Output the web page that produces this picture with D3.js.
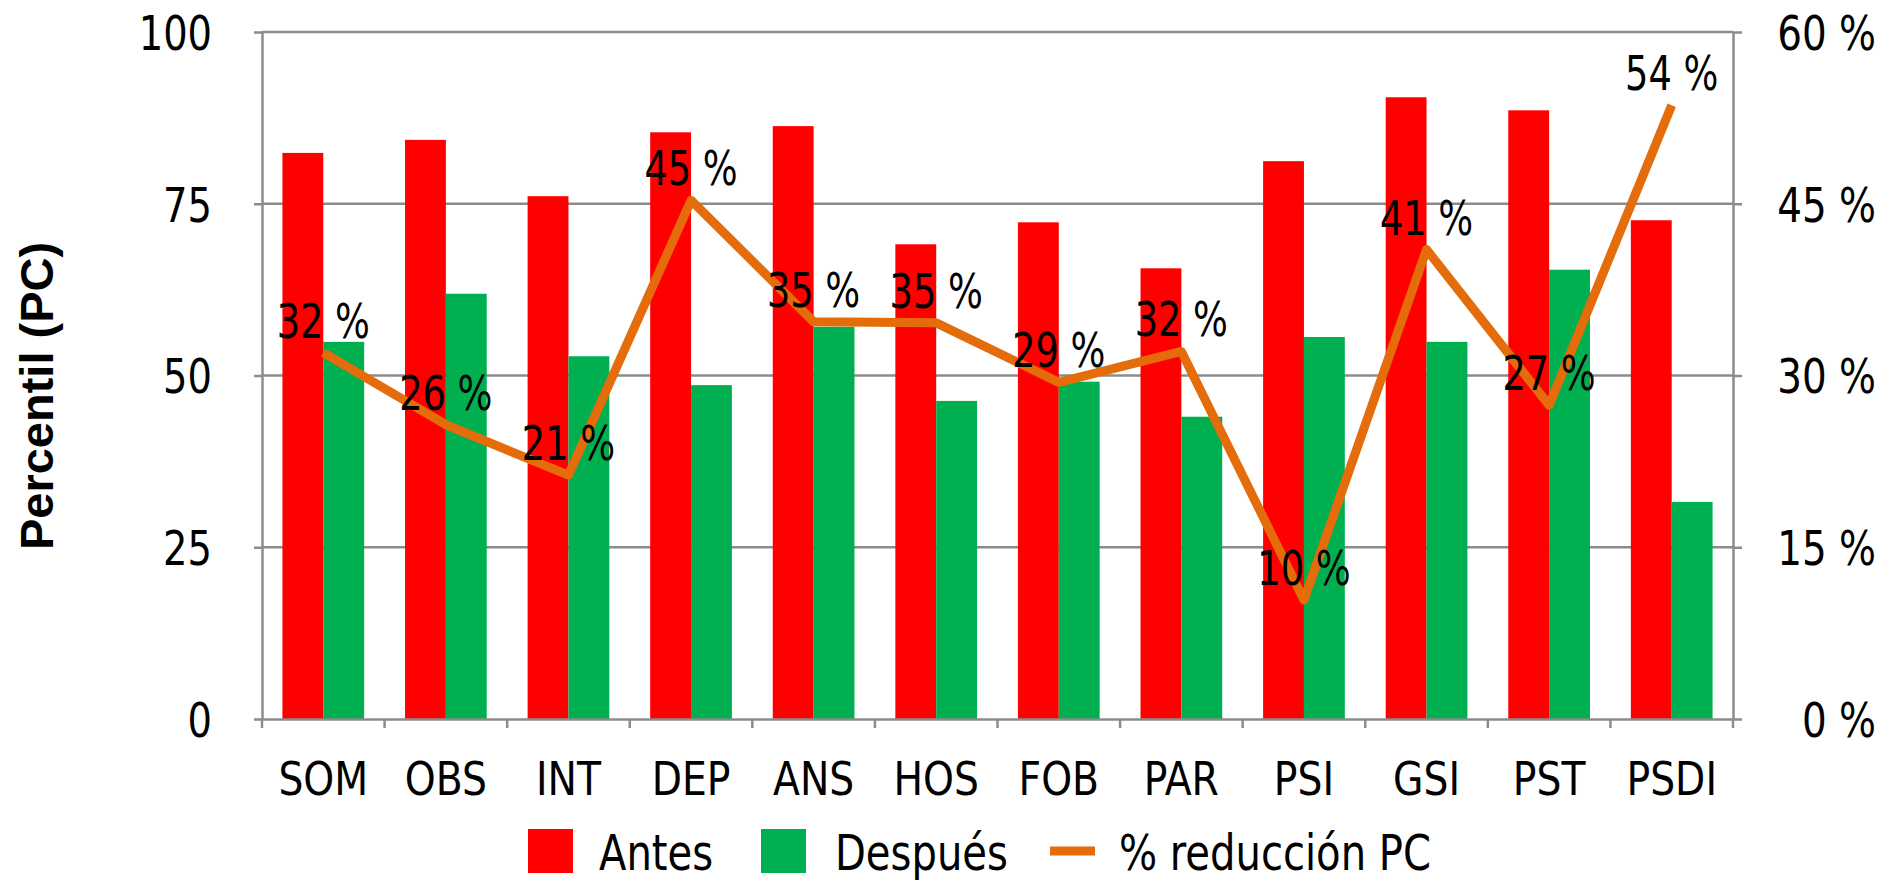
<!DOCTYPE html>
<html>
<head>
<meta charset="utf-8">
<script src="https://cdn.jsdelivr.net/npm/d3@7"></script>
<style>
  html, body { margin: 0; padding: 0; background: #fff; }
  svg { display: block; }
  .f { font-family: "DejaVu Sans Condensed", "DejaVu Sans", sans-serif; fill: #000; }
</style>
</head>
<body>
<svg id="chart" width="1892" height="883"></svg>
<script>
const categories = ['SOM','OBS','INT','DEP','ANS','HOS','FOB','PAR','PSI','GSI','PST','PSDI'];
const antes      = [82.4, 84.3, 76.1, 85.4, 86.3, 69.1, 72.3, 65.6, 81.2, 90.5, 88.6, 72.6];
const despues    = [54.9, 61.9, 52.8, 48.6, 57.1, 46.3, 49.1, 44.0, 55.6, 54.9, 65.4, 31.6];
const reduccion  = [32.0, 25.7, 21.3, 45.3, 34.7, 34.6, 29.4, 32.1, 10.4, 41.0, 27.4, 53.6];
const leftTicks  = [0, 25, 50, 75, 100];
const rightTicks = [0, 15, 30, 45, 60];
const seriesNames = ['Antes', 'Después', '% reducción PC'];
const colors = { 'Antes': '#FF0000', 'Después': '#00B050', '% reducción PC': '#E46C0A' };

const svg = d3.select('#chart');
const L = 262, R = 1733, T = 32, B = 719;
const gridColor = '#8C8C8C';

// horizontally condense a text selection (keeps glyph height)
function condense(sel, s) {
  sel.each(function() {
    const t = d3.select(this);
    const xv = +t.attr('x') || 0;
    t.attr('x', xv / s).attr('transform', `scale(${s},1)`);
  });
}

const x = d3.scaleBand().domain(categories).range([L, R]).padding(0);
const xi = d3.scaleBand().domain(['Antes', 'Después']).range([0, x.bandwidth()]).paddingInner(0).paddingOuter(0.5);
const y = d3.scaleLinear().domain([0, 100]).range([B, T]);
const y2 = d3.scaleLinear().domain([0, 60]).range([B, T]);

// gridlines
svg.append('g').selectAll('line').data(leftTicks.filter(d => d > 0)).join('line')
  .attr('x1', L).attr('x2', R).attr('y1', d => y(d)).attr('y2', d => y(d))
  .attr('stroke', gridColor).attr('stroke-width', 2.5);

// bars
const rows = categories.map((c, i) => ({ c, vals: [{ k: 'Antes', v: antes[i] }, { k: 'Después', v: despues[i] }] }));
const grp = svg.append('g').selectAll('g').data(rows).join('g')
  .attr('transform', d => `translate(${x(d.c)},0)`);
grp.selectAll('rect').data(d => d.vals).join('rect')
  .attr('x', d => xi(d.k)).attr('width', xi.bandwidth())
  .attr('y', d => y(d.v)).attr('height', d => y(0) - y(d.v))
  .attr('fill', d => colors[d.k]);

// axes
function styleAxis(g) {
  g.selectAll('.domain').attr('stroke', gridColor).attr('stroke-width', 2.5);
  g.selectAll('.tick line').attr('stroke', gridColor).attr('stroke-width', 2.5);
  g.selectAll('text').attr('class', 'f').attr('fill', '#000');
}
const gl = svg.append('g').attr('transform', `translate(${L},0)`)
  .call(d3.axisLeft(y).tickValues(leftTicks).tickSize(8).tickSizeOuter(0).tickFormat(d3.format('d')));
styleAxis(gl);
gl.selectAll('text').attr('font-size', 48).attr('x', -50).attr('dy', '0.36em').attr('text-anchor', 'end');
condense(gl.selectAll('text'), 0.89);

const gr = svg.append('g').attr('transform', `translate(${R},0)`)
  .call(d3.axisRight(y2).tickValues(rightTicks).tickSize(9).tickSizeOuter(0).tickFormat(d => d + ' %'));
styleAxis(gr);
gr.selectAll('text').attr('font-size', 48).attr('x', 143).attr('dy', '0.36em').attr('text-anchor', 'end');
condense(gr.selectAll('text'), 0.9);

// x axis with ticks at category boundaries
const gx = svg.append('g').attr('transform', `translate(0,${B})`)
  .call(d3.axisBottom(x).tickSize(0).tickSizeOuter(0));
styleAxis(gx);
gx.selectAll('text').attr('font-size', 46).attr('y', 76).attr('dy', 0);
condense(gx.selectAll('text'), 0.95);
gx.append('g').selectAll('line').data(d3.range(categories.length + 1)).join('line')
  .attr('x1', i => L + i * x.step()).attr('x2', i => L + i * x.step())
  .attr('y1', 0).attr('y2', 9).attr('stroke', gridColor).attr('stroke-width', 2.5);

// line
const cx = c => x(c) + x.bandwidth() / 2;
const lineData = categories.map((c, i) => ({ c, v: reduccion[i] }));
svg.append('path').datum(lineData)
  .attr('d', d3.line().x(d => cx(d.c)).y(d => y2(d.v)))
  .attr('fill', 'none').attr('stroke', colors['% reducción PC'])
  .attr('stroke-width', 9).attr('stroke-linejoin', 'round');

// data labels
const labels = svg.append('g').selectAll('text').data(lineData).join('text')
  .attr('class', 'f').attr('font-size', 48).attr('text-anchor', 'middle')
  .attr('x', d => cx(d.c)).attr('y', d => y2(d.v) - 15)
  .text(d => Math.round(d.v) + ' %');
condense(labels, 0.85);

// y title
svg.append('text').attr('transform', 'translate(53,396) rotate(-90)')
  .attr('text-anchor', 'middle').attr('font-family', '"Liberation Sans", Arial, sans-serif')
  .attr('font-weight', 'bold').attr('font-size', 47).text('Percentil (PC)');

// legend
const leg = svg.append('g');
const legItems = [
  { k: seriesNames[0], sx: 528, tx: 599, type: 'rect' },
  { k: seriesNames[1], sx: 761, tx: 835, type: 'rect' },
  { k: seriesNames[2], sx: 1050, tx: 1119, type: 'line' }
];
legItems.forEach(it => {
  if (it.type === 'rect') {
    leg.append('rect').attr('x', it.sx).attr('y', 829).attr('width', 45).attr('height', 44).attr('fill', colors[it.k]);
  } else {
    leg.append('line').attr('x1', it.sx).attr('x2', it.sx + 45).attr('y1', 851).attr('y2', 851)
      .attr('stroke', colors[it.k]).attr('stroke-width', 9);
  }
  const t = leg.append('text').attr('class', 'f').attr('font-size', 49).attr('x', it.tx).attr('y', 870).text(it.k);
  condense(t, 0.91);
});
</script>
</body>
</html>
